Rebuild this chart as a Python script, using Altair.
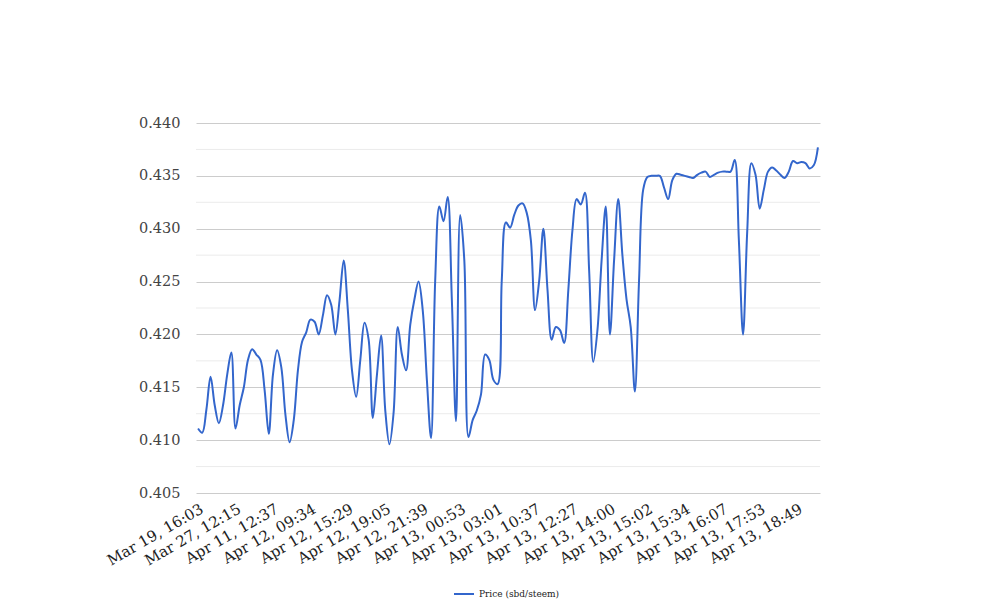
import altair as alt
import pandas as pd

series_name = "Price (sbd/steem)"

tick_labels = [
    "Mar 19, 16:03", "Mar 27, 12:15", "Apr 11, 12:37", "Apr 12, 09:34",
    "Apr 12, 15:29", "Apr 12, 19:05", "Apr 12, 21:39", "Apr 13, 00:53",
    "Apr 13, 03:01", "Apr 13, 10:37", "Apr 13, 12:27", "Apr 13, 14:00",
    "Apr 13, 15:02", "Apr 13, 15:34", "Apr 13, 16:07", "Apr 13, 17:53",
    "Apr 13, 18:49",
]

prices = [
    0.4111, 0.4107, 0.4129, 0.4160, 0.4133, 0.4116, 0.4133, 0.4162, 0.4183, 0.4111,
    0.4133, 0.4150, 0.4176, 0.4186, 0.4181, 0.4176, 0.4147, 0.4106, 0.4162, 0.4185,
    0.4169, 0.4124, 0.4098, 0.4119, 0.4166, 0.4193, 0.4202, 0.4214, 0.4212, 0.4200,
    0.4218, 0.4237, 0.4228, 0.4200, 0.4232, 0.4270, 0.4223, 0.4166, 0.4141, 0.4176,
    0.4211, 0.4195, 0.4121, 0.4162, 0.4199, 0.4128, 0.4096, 0.4126, 0.4207, 0.4181,
    0.4166, 0.4209, 0.4233, 0.4250, 0.4223, 0.4157, 0.4102, 0.4251, 0.4321, 0.4307,
    0.4330, 0.4233, 0.4118, 0.4313, 0.4270, 0.4103, 0.4119, 0.4128, 0.4143, 0.4181,
    0.4176, 0.4157, 0.4153, 0.4251, 0.4306, 0.4301, 0.4313, 0.4322, 0.4324, 0.4315,
    0.4289, 0.4223, 0.4251, 0.4300, 0.4242, 0.4195, 0.4207, 0.4204, 0.4192, 0.4242,
    0.4299, 0.4328, 0.4323, 0.4334, 0.4261, 0.4174, 0.4204, 0.4270, 0.4321, 0.4200,
    0.4270, 0.4328, 0.4275, 0.4233, 0.4207, 0.4146, 0.4251, 0.4337, 0.4349, 0.4350,
    0.4350, 0.4350, 0.4339, 0.4328, 0.4346, 0.4352, 0.4351, 0.4350, 0.4349, 0.4348,
    0.4351, 0.4353, 0.4354, 0.4349, 0.4351, 0.4353, 0.4354, 0.4354, 0.4354, 0.4365,
    0.4289, 0.4200, 0.4297, 0.4362, 0.4351, 0.4319, 0.4337, 0.4354, 0.4358, 0.4355,
    0.4351, 0.4348, 0.4354, 0.4364, 0.4362, 0.4363, 0.4362, 0.4357, 0.4360, 0.4377,
]

major_ticks = [0.405, 0.410, 0.415, 0.420, 0.425, 0.430, 0.435, 0.440]
minor_ticks = [0.4075, 0.4125, 0.4175, 0.4225, 0.4275, 0.4325, 0.4375]

label_step = 9
n = len(prices)
label_idx = [i * label_step for i in range(len(tick_labels))]
label_expr = "[" + ",".join("'%s'" % s for s in tick_labels) + "][round(datum.value / %d)]" % label_step

df = pd.DataFrame({"idx": list(range(n)), "price": prices, "series": [series_name] * n})
df_minor = pd.DataFrame({"v": minor_ticks})

FONT = "DejaVu Serif"

y_scale = alt.Scale(domain=[0.405, 0.440], nice=False, zero=False)
y_axis = alt.Axis(
    values=major_ticks, format=".3f", grid=True, gridColor="#cccccc",
    ticks=False, domain=False, title=None, labelFont=FONT,
    labelFontSize=14.5, labelColor="#444444", labelPadding=16,
)

minor = alt.Chart(df_minor).mark_rule(color="#ebebeb", strokeWidth=1).encode(
    y=alt.Y("v:Q", scale=y_scale, axis=y_axis, title=None)
)

line = alt.Chart(df).mark_line(interpolate="catmull-rom", strokeWidth=2).encode(
    x=alt.X(
        "idx:Q",
        scale=alt.Scale(domain=[-0.5, n - 0.5], nice=False, zero=False),
        axis=alt.Axis(
            values=label_idx, labelExpr=label_expr, labelAngle=-30,
            labelAlign="right", labelBaseline="top", ticks=False, domain=False,
            grid=False, title=None, labelFont=FONT, labelFontSize=15,
            labelColor="#222222", labelPadding=8, labelOverlap=False,
        ),
    ),
    y=alt.Y("price:Q", scale=y_scale, axis=y_axis, title=None),
    color=alt.Color(
        "series:N",
        scale=alt.Scale(range=["#3366cc"]),
        legend=alt.Legend(
            title=None, orient="none", legendX=257, legendY=460,
            symbolType="stroke", symbolStrokeWidth=2, symbolSize=400,
            labelFont=FONT, labelFontSize=9, labelColor="#222222",
        ),
    ),
)

chart = (
    alt.layer(minor, line)
    .properties(
        width=624, height=370, autosize="none",
        padding={"left": 188, "top": 115, "right": 180, "bottom": 115},
        background="white",
    )
    .configure_view(stroke=None)
)

chart.save("out.html", embed_options={"renderer": "svg", "actions": False})
